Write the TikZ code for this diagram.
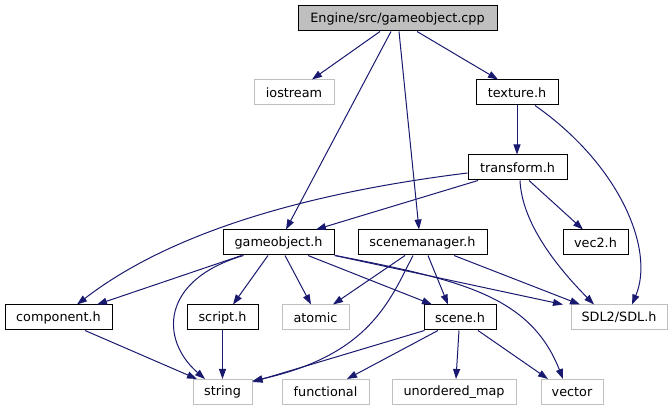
\documentclass[tikz,border=0pt]{standalone}
\usepackage{fontspec}
\setmainfont{DejaVu Sans}
\usetikzlibrary{arrows.meta}
\definecolor{edgec}{HTML}{191970}
\definecolor{extc}{HTML}{BFBFBF}
\definecolor{cppfill}{HTML}{BFBFBF}
\begin{document}
\begin{tikzpicture}[x=1pt,y=-1pt,
  box/.style={draw=black,line width=1pt,minimum height=25pt,inner sep=0pt,font=\fontsize{12.8}{15}\selectfont},
  ext/.style={box,draw=extc},
  edge/.style={draw=edgec,line width=1pt,-{Triangle[length=10pt,width=7pt]}}]
\useasboundingbox (0,0) rectangle (672,411);
% nodes
\node[box,fill=cppfill,minimum width=199pt] (cpp) at (397.5,18.5) {Engine/src/gameobject.cpp};
\node[ext,minimum width=80pt] (iostream) at (294,92.5) {iostream};
\node[box,minimum width=82pt] (texture) at (517,92.5) {texture.h};
\node[box,minimum width=99pt] (transform) at (517.5,167.5) {transform.h};
\node[box,minimum width=111pt] (goh) at (278.5,242.5) {gameobject.h};
\node[box,minimum width=129pt] (smh) at (422.5,242.5) {scenemanager.h};
\node[box,minimum width=65pt] (vec2) at (595.5,242.5) {vec2.h};
\node[box,minimum width=107pt] (comp) at (58.5,317.5) {component.h};
\node[box,minimum width=71pt] (script) at (222.5,317.5) {script.h};
\node[ext,minimum width=67pt] (atomic) at (315.5,317.5) {atomic};
\node[box,minimum width=72pt] (scene) at (460,317.5) {scene.h};
\node[ext,minimum width=96pt] (SDL) at (619,317.5) {SDL2/SDL.h};
\node[ext,minimum width=59pt] (string) at (222.5,392) {string};
\node[ext,minimum width=87pt] (functional) at (325.5,392) {functional};
\node[ext,minimum width=124pt] (umap) at (454,392) {unordered\_map};
\node[ext,minimum width=62pt] (vector) at (572,392) {vector};
% edges
\draw[edge] ([xshift=-17.5pt]cpp.south) -- ([xshift=18pt]iostream.north);
\draw[edge] ([xshift=-6.5pt]cpp.south) -- ([xshift=7.5pt]goh.north);
\draw[edge] ([xshift=1.5pt]cpp.south) -- ([xshift=-3.5pt]smh.north);
\draw[edge] ([xshift=19.5pt]cpp.south) -- ([xshift=-19pt]texture.north);
\draw[edge] (texture.south) -- ([xshift=-0.5pt]transform.north);
\draw[edge] ([xshift=18pt]texture.south) .. controls (620,165) and (655,250) .. ([xshift=13pt]SDL.north);
\draw[edge] ([xshift=-39.5pt]transform.south) -- ([xshift=37.5pt]goh.north);
\draw[edge] ([yshift=-5.5pt]transform.west) .. controls (330,190) and (180,225) .. ([xshift=18.5pt]comp.north);
\draw[edge] ([xshift=11.5pt]transform.south) -- ([xshift=-12.5pt]vec2.north);
\draw[edge] ([xshift=2.5pt]transform.south) .. controls (522,225) and (560,270) .. ([xshift=-25pt]SDL.north);
\draw[edge] ([xshift=-37pt]goh.south) -- ([xshift=38.5pt]comp.north);
\draw[edge] ([xshift=-35pt]goh.south) .. controls (160,280) and (160,340) .. ([xshift=-17.5pt]string.north);
\draw[edge] ([xshift=-10.5pt]goh.south) -- ([xshift=10.5pt]script.north);
\draw[edge] ([xshift=6.5pt]goh.south) -- ([xshift=-4.5pt]atomic.north);
\draw[edge] ([xshift=29.5pt]goh.south) -- ([xshift=-28pt]scene.north);
\draw[edge] (goh.south east) -- ([xshift=-56pt]SDL.north);
\draw[edge] ([xshift=1pt]goh.south east) .. controls (460,280) and (530,295) .. ([xshift=-9pt]vector.north);
\draw[edge] ([xshift=-17.5pt]smh.south) -- ([xshift=17.5pt]atomic.north);
\draw[edge] ([xshift=-9.5pt]smh.south) .. controls (390,300) and (370,355) .. ([yshift=-2pt]string.north east);
\draw[edge] ([xshift=5.5pt]smh.south) -- ([xshift=-12pt]scene.north);
\draw[edge] ([xshift=31.5pt]smh.south) -- ([xshift=-39pt]SDL.north);
\draw[edge] ([xshift=26.5pt]comp.south) -- ([xshift=-25.5pt]string.north);
\draw[edge] (script.south) -- (string.north);
\draw[edge] ([xshift=1pt]scene.south west) -- ([yshift=-3pt]string.north east);
\draw[edge] ([xshift=-22pt]scene.south) -- ([xshift=21.5pt]functional.north);
\draw[edge] ([xshift=-1pt]scene.south) -- ([xshift=2pt]umap.north);
\draw[edge] ([xshift=18pt]scene.south) -- ([xshift=-24pt]vector.north);
\end{tikzpicture}
\end{document}
